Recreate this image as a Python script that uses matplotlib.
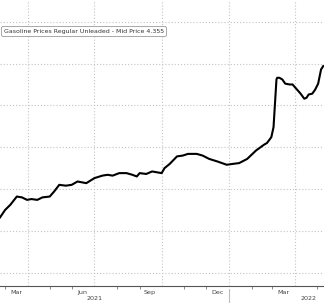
import pandas as pd
import numpy as np
import matplotlib.pyplot as plt
import matplotlib.dates as mdates

# gasoline, regular unleaded (mid price)
dates = ["2021-02-22", "2021-03-01", "2021-03-08", "2021-03-17", "2021-03-24", "2021-03-31",
         "2021-04-06", "2021-04-14", "2021-04-21", "2021-05-01", "2021-05-07", "2021-05-14",
         "2021-05-23", "2021-05-31", "2021-06-08", "2021-06-20", "2021-07-01", "2021-07-12",
         "2021-07-19", "2021-07-26", "2021-08-04", "2021-08-14", "2021-08-22", "2021-08-28",
         "2021-09-01", "2021-09-10", "2021-09-18", "2021-10-01", "2021-10-05", "2021-10-12",
         "2021-10-22", "2021-10-30", "2021-11-06", "2021-11-18", "2021-11-26", "2021-12-05",
         "2021-12-16", "2021-12-29", "2022-01-06", "2022-01-15", "2022-01-26", "2022-02-07",
         "2022-02-18", "2022-02-22", "2022-02-28", "2022-03-03", "2022-03-07", "2022-03-08",
         "2022-03-11", "2022-03-15", "2022-03-19", "2022-03-25", "2022-03-29", "2022-04-03",
         "2022-04-09", "2022-04-14", "2022-04-17", "2022-04-20", "2022-04-25", "2022-04-29",
         "2022-05-03", "2022-05-07", "2022-05-10"]
prices = [2.66, 2.75, 2.81, 2.91, 2.90, 2.87,
          2.88, 2.87, 2.90, 2.91, 2.97, 3.05,
          3.04, 3.05, 3.09, 3.07, 3.13, 3.16,
          3.17, 3.16, 3.19, 3.19, 3.17, 3.15,
          3.19, 3.18, 3.21, 3.19, 3.25, 3.30,
          3.39, 3.40, 3.42, 3.42, 3.40, 3.36,
          3.33, 3.29, 3.30, 3.31, 3.36, 3.46,
          3.53, 3.55, 3.62, 3.74, 4.31, 4.33,
          4.33, 4.31, 4.26, 4.25, 4.25, 4.20,
          4.14, 4.08, 4.09, 4.13, 4.14, 4.19,
          4.26, 4.43, 4.47]

month_labels = ["Mar", "Jun", "Sep", "Dec", "Mar"]
label_dates = ["2021-03-16", "2021-06-15", "2021-09-15", "2021-12-16", "2022-03-16"]
years = ["2021", "2022"]
year_dates = ["2021-07-02", "2022-04-20"]

df = pd.DataFrame({"date": pd.to_datetime(dates), "price": prices})

fig = plt.figure(figsize=(3.24, 3.03), dpi=100)
ax = fig.add_axes([0, 0.056, 1, 0.944])

ax.plot(df["date"], df["price"], color="black", lw=1.5, solid_joinstyle="round")

ax.set_xlim(pd.Timestamp("2021-02-22"), pd.Timestamp("2022-05-11"))
ax.set_ylim(1.84, 5.26)

# grid: quarter lines + half-dollar lines, dotted
ax.set_xticks(pd.to_datetime(["2021-04-01", "2021-07-01", "2021-10-01", "2022-01-01", "2022-04-01"]))
ax.set_yticks(np.arange(2.0, 5.01, 0.5))
ax.grid(True, color="#c4c4c4", ls=(0, (1, 1.8)), lw=0.8)
ax.tick_params(axis="both", length=0, labelbottom=False, labelleft=False)

ax.xaxis.set_minor_locator(mdates.MonthLocator())
ax.tick_params(axis="x", which="minor", length=2, color="#777777", direction="out")

for s in ["top", "left", "right"]:
    ax.spines[s].set_visible(False)
ax.spines["bottom"].set_color("#555555")
ax.spines["bottom"].set_linewidth(0.8)

for lab, d in zip(month_labels, label_dates):
    ax.text(pd.Timestamp(d), -0.021, lab, transform=ax.get_xaxis_transform(),
            ha="center", va="center", fontsize=4.6, color="#444444")
for lab, d in zip(years, year_dates):
    ax.text(pd.Timestamp(d), -0.044, lab, transform=ax.get_xaxis_transform(),
            ha="center", va="center", fontsize=4.6, color="#444444")

# year separator
ax.plot([pd.Timestamp("2022-01-01")] * 2, [-0.01, -0.06], transform=ax.get_xaxis_transform(),
        color="#bbbbbb", lw=0.8, clip_on=False)

ax.text(0.012, 0.89, "Gasoline Prices Regular Unleaded - Mid Price 4.355", transform=ax.transAxes,
        fontsize=4.5, color="#333333", ha="left", va="center",
        bbox=dict(boxstyle="round,pad=0.4,rounding_size=0.3", fc="white", ec="#999999", lw=0.6))

plt.savefig("out.png", dpi=100)
